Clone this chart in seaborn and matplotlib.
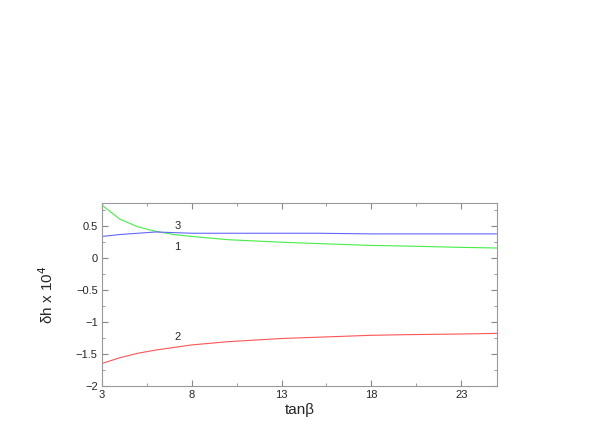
import numpy as np
import pandas as pd
import matplotlib
matplotlib.use('Agg')
import matplotlib.pyplot as plt
import seaborn as sns
from matplotlib.ticker import FixedLocator

# values
tanb = [3, 4, 5, 6, 7, 8, 10, 13, 15, 18, 20, 23, 25]
curve1 = [0.82, 0.60, 0.48, 0.41, 0.36, 0.33, 0.28, 0.24, 0.22, 0.19, 0.18, 0.16, 0.15]
curve2 = [-1.65, -1.56, -1.49, -1.44, -1.40, -1.36, -1.31, -1.26, -1.24, -1.21, -1.20, -1.19, -1.18]
curve3 = [0.33, 0.36, 0.38, 0.40, 0.39, 0.38, 0.38, 0.38, 0.38, 0.37, 0.37, 0.37, 0.37]

df = pd.DataFrame({'tanb': tanb * 3,
                   'dh': curve1 + curve2 + curve3,
                   'curve': ['1'] * len(tanb) + ['2'] * len(tanb) + ['3'] * len(tanb)})

sns.set_style('ticks')
plt.rcParams['font.family'] = ['Liberation Sans', 'DejaVu Sans']

fig = plt.figure(figsize=(5.99, 4.36), dpi=100)
ax = fig.add_axes([0.170, 0.1147, 0.660, 0.4195])

sns.lineplot(data=df, x='tanb', y='dh', hue='curve',
             palette={'1': '#44ee44', '2': '#ff5555', '3': '#6666ff'},
             linewidth=0.8, legend=False, ax=ax)

ax.text(7.2, 0.50, '3', fontsize=8, ha='center', va='center')
ax.text(7.2, 0.17, '1', fontsize=8, ha='center', va='center')
ax.text(7.2, -1.23, '2', fontsize=8, ha='center', va='center')

ax.set_xlim(3, 25)
ax.set_ylim(-2, 0.85)
ax.set_xticks([3, 8, 13, 18, 23])
ax.xaxis.set_minor_locator(FixedLocator([5.5, 10.5, 15.5, 20.5]))
ax.set_yticks([-2, -1.5, -1, -0.5, 0, 0.5])
ax.yaxis.set_minor_locator(FixedLocator([-1.75, -1.25, -0.75, -0.25, 0.25, 0.75]))
ax.set_yticklabels(['\u22122', '\u22121.5', '\u22121', '\u22120.5', '0', '0.5'])
ax.tick_params(which='both', direction='in', top=True, right=True,
               color='#888888', labelsize=8, pad=3)
ax.tick_params(which='major', length=4)
ax.tick_params(which='minor', length=2)
for s in ax.spines.values():
    s.set_color('#999999')
    s.set_linewidth(0.8)

ax.set_xlabel('tan\u03b2', fontsize=11, labelpad=2)
ax.set_ylabel('\u03b4h x 10$^4$', fontsize=11, labelpad=14)

fig.savefig('out.png', dpi=100)
plt.close(fig)
